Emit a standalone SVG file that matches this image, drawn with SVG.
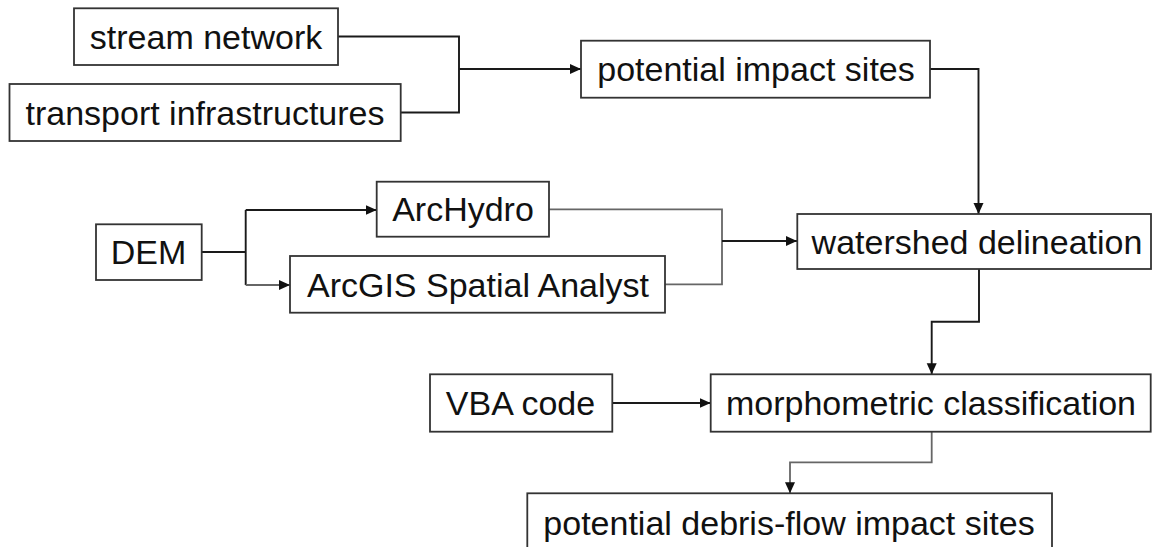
<svg xmlns="http://www.w3.org/2000/svg" width="1153" height="547" viewBox="0 0 1153 547">
<defs>
<marker id="arr" markerUnits="userSpaceOnUse" markerWidth="12" markerHeight="11" refX="11" refY="5" orient="auto">
<path d="M0,0 L11,5 L0,10 z" fill="#111"/>
</marker>
<style>
.box{fill:#fff;stroke:#333;stroke-width:1.8}
.lbl{font-family:"Liberation Sans",Arial,sans-serif;font-size:34px;fill:#111;text-anchor:middle}
.c{fill:none;stroke:#1a1a1a;stroke-width:1.9}
.g{fill:none;stroke:#666;stroke-width:1.8}
</style>
</defs>
<rect width="1153" height="547" fill="#fff"/>
<g id="connectors">
<path class="c" d="M338,36.5 H459 V112.5 H401"/>
<path class="c" d="M459,69 H581" marker-end="url(#arr)"/>
<path class="c" d="M930,69 H978.5 V214" marker-end="url(#arr)"/>
<path class="c" d="M201.7,252 H245.7"/>
<path class="c" d="M245.7,210 V285"/>
<path class="c" d="M245.7,210 H376.7" marker-end="url(#arr)"/>
<path class="g" d="M245.7,285 H290" marker-end="url(#arr)"/>
<path class="g" d="M549,209.3 H722 V284.3 H665"/>
<path class="c" d="M722,241 H797" marker-end="url(#arr)"/>
<path class="c" d="M979,269 V321.7 H931.7 V374.3" marker-end="url(#arr)"/>
<path class="c" d="M612.3,403 H710.7" marker-end="url(#arr)"/>
<path class="g" d="M931.7,431.7 V462.3 H790 V493.3" marker-end="url(#arr)"/>
</g>
<g id="stream-network">
<rect class="box" x="74" y="8.3" width="264" height="56.7"/>
<text class="lbl" x="206" y="49">stream network</text>
</g>
<g id="transport-infrastructures">
<rect class="box" x="9.5" y="84" width="391.2" height="57"/>
<text class="lbl" x="205" y="124.5">transport infrastructures</text>
</g>
<g id="potential-impact-sites">
<rect class="box" x="581" y="40.7" width="349" height="57"/>
<text class="lbl" x="756" y="81">potential impact sites</text>
</g>
<g id="dem">
<rect class="box" x="96" y="224.3" width="105.7" height="55.7"/>
<text class="lbl" x="148.5" y="264">DEM</text>
</g>
<g id="archydro">
<rect class="box" x="376.7" y="181.7" width="172.3" height="55"/>
<text class="lbl" x="463" y="221">ArcHydro</text>
</g>
<g id="arcgis-spatial-analyst">
<rect class="box" x="290" y="256" width="375" height="56.7"/>
<text class="lbl" x="478" y="296.5">ArcGIS Spatial Analyst</text>
</g>
<g id="watershed-delineation">
<rect class="box" x="797.3" y="214" width="353.7" height="55"/>
<text class="lbl" x="977" y="253.5">watershed delineation</text>
</g>
<g id="vba-code">
<rect class="box" x="430" y="374.3" width="182.3" height="57.4"/>
<text class="lbl" x="520.5" y="415">VBA code</text>
</g>
<g id="morphometric-classification">
<rect class="box" x="710.7" y="374.3" width="440" height="57.4"/>
<text class="lbl" x="931" y="415">morphometric classification</text>
</g>
<g id="potential-debris-flow-impact-sites">
<rect class="box" x="527.3" y="493.3" width="524.7" height="70"/>
<text class="lbl" x="789" y="535">potential debris-flow impact sites</text>
</g>
</svg>
